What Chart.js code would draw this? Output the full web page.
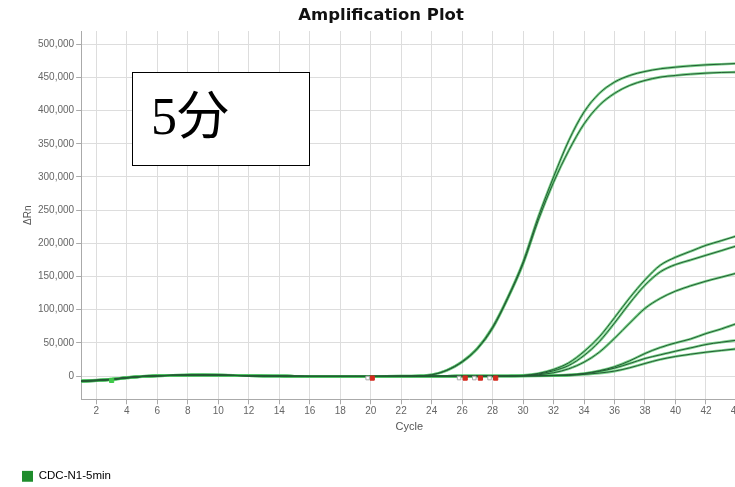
<!DOCTYPE html>
<html>
<head>
<meta charset="utf-8">
<script src="https://cdn.jsdelivr.net/npm/chart.js@4"></script>
<style>
  html, body { margin: 0; padding: 0; background: #fff; overflow: hidden; }
  #wrap { position: relative; width: 735px; height: 487px; overflow: hidden; }
  #note {
    position: absolute; left: 132px; top: 72px; width: 178px; height: 94px;
    border: 1px solid #000; background: #fff;
    font-family: "Liberation Serif", "Noto Sans CJK JP", serif; font-size: 52px;
    line-height: 88px; padding-left: 18px; box-sizing: border-box; color: #000;
  }
</style>
</head>
<body>
<div id="wrap">
  <canvas id="chart" width="743" height="487"></canvas>
  <div id="note">5分</div>
</div>
<script>
const Chart = window.Chart;

const cycles = [1, 2, 3, 4, 5, 6, 7, 8, 9, 10, 11, 12, 13, 14, 15, 16, 17, 18, 19, 20, 21, 22,
  23, 24, 25, 26, 27, 28, 29, 30, 31, 32, 33, 34, 35, 36, 37, 38, 39, 40, 41, 42, 43, 44];

const xTicks = [2, 4, 6, 8, 10, 12, 14, 16, 18, 20, 22, 24, 26, 28, 30, 32, 34, 36, 38, 40, 42, 44];
const yTicks = [0, 50000, 100000, 150000, 200000, 250000, 300000, 350000, 400000, 450000, 500000];

// two early samples (Ct ~ 27)
const highA = [-7500, -6500, -5000, -2500, -500, 500, 1200, 1500, 1700, 1500, 1000, 500, 300, 0, -300, -500,
  -500, -500, -500, -500, -300, 0, 500, 2000, 9000, 22000, 42000, 74000, 119000, 172000, 240000, 300000,
  355000, 398000, 426000, 443000, 453000, 459000, 463000, 465500, 467500, 469000, 470000, 471000];
const highB = [-8000, -7000, -5500, -3000, -800, 300, 1000, 1300, 1500, 1300, 900, 400, 200, 0, -300, -500,
  -500, -500, -500, -500, -300, 0, 500, 2000, 8500, 21000, 41000, 72000, 117000, 169000, 235000, 292000,
  340000, 380000, 408000, 426000, 438000, 445500, 450500, 453000, 455000, 456500, 457500, 458000];

// late samples
const lateA = [-7000, -6000, -4500, -2000, -300, 600, 1300, 1600, 1800, 1600, 1100, 600, 300, 0, -300, -500,
  -500, -500, -500, -500, -400, -300, -300, -200, -200, -100, 0, 0, 200, 1000, 4000, 10000,
  20000, 37000, 59000, 88000, 118000, 145000, 167000, 179000, 188000, 197000, 204000, 211000];
const lateB = [-8000, -7000, -5000, -2500, -600, 400, 1100, 1400, 1600, 1400, 1000, 500, 200, 0, -300, -500,
  -500, -500, -500, -500, -400, -300, -300, -200, -200, -100, 0, 0, 200, 800, 3000, 8000,
  16000, 31000, 52000, 80000, 110000, 137000, 157000, 168000, 175000, 182000, 189000, 196000];
const lateC = [-7500, -6500, -5000, -2200, -400, 500, 1200, 1500, 1700, 1500, 1000, 500, 300, 0, -300, -500,
  -500, -500, -500, -500, -400, -300, -300, -200, -200, -100, 0, 0, 100, 600, 2000, 5000,
  11000, 21000, 36000, 57000, 80000, 102000, 117000, 128000, 136000, 143000, 149000, 155000];
const lateD = [-8000, -6800, -5200, -2800, -700, 300, 1000, 1300, 1500, 1300, 900, 400, 200, 0, -300, -500,
  -500, -500, -500, -500, -400, -300, -300, -200, -200, -100, 0, 0, 0, 300, 600, 1000,
  2000, 4000, 8000, 14000, 23000, 34000, 43000, 50000, 56000, 64000, 71000, 79000];
const lateE = [-7200, -6200, -4800, -2300, -500, 400, 1100, 1400, 1600, 1400, 1000, 500, 200, 0, -300, -500,
  -500, -500, -500, -500, -400, -300, -300, -200, -200, -100, 0, 0, 0, 200, 400, 800,
  1500, 3500, 7000, 12000, 19000, 26500, 32000, 37500, 42500, 47500, 51000, 54000];
const lateF = [-7800, -6600, -5000, -2600, -600, 300, 1000, 1300, 1500, 1300, 900, 400, 200, 0, -300, -500,
  -500, -500, -500, -500, -400, -300, -300, -200, -200, -100, 0, 0, 0, 200, 300, 600,
  1000, 2500, 4500, 7500, 12500, 19000, 25000, 29500, 33000, 36000, 38500, 41000];

const curves = [highA, highB, lateA, lateB, lateC, lateD, lateE, lateF];

// threshold cycle markers on the baseline
const ctMarkX = [20.1, 26.2, 27.2, 28.2];
const ctMarkY = [-3000, -3000, -3000, -3000];
const ctOpenX = [19.8, 25.8, 26.8, 27.8];
const baseMarkX = [3];
const baseMarkY = [-6500];

const toPoints = (values) => values.map((value, index) => ({ x: cycles[index], y: value }));

const datasets = [];
curves.forEach((values) => {
  datasets.push({
    data: toPoints(values),
    borderColor: '#245c35',
    borderWidth: 1,
    pointRadius: 0,
    cubicInterpolationMode: 'monotone',
    order: 1,
  });
  datasets.push({
    data: toPoints(values),
    borderColor: 'rgba(80,195,100,0.75)',
    borderWidth: 2.6,
    pointRadius: 0,
    cubicInterpolationMode: 'monotone',
    order: 2,
  });
});
datasets.push({
  type: 'scatter',
  data: ctOpenX.map((x, index) => ({ x, y: ctMarkY[index] })),
  pointStyle: 'rect',
  pointRadius: 2.5,
  borderWidth: 1,
  backgroundColor: '#fff',
  borderColor: '#aaa',
  order: 0,
});
datasets.push({
  type: 'scatter',
  data: ctMarkX.map((x, index) => ({ x, y: ctMarkY[index] })),
  pointStyle: 'rect',
  pointRadius: 3,
  backgroundColor: '#d42a1e',
  borderColor: '#d42a1e',
  order: 0,
});
datasets.push({
  type: 'scatter',
  data: baseMarkX.map((x, index) => ({ x, y: baseMarkY[index] })),
  pointStyle: 'rect',
  pointRadius: 3,
  backgroundColor: '#3fc94a',
  borderColor: '#3fc94a',
  order: 0,
});

const titleAt = {
  id: 'titleAt',
  afterDraw(chart) {
    const { ctx } = chart;
    ctx.save();
    ctx.font = 'bold 16.5px "DejaVu Sans"';
    ctx.fillStyle = '#111';
    ctx.textAlign = 'center';
    ctx.textBaseline = 'middle';
    ctx.fillText('Amplification Plot', 381, 16);
    ctx.restore();
  },
};

const tickFont = { family: '"Liberation Sans", Arial', size: 10 };
const gridStyle = { color: '#dddddd', borderDash: [2, 2], tickLength: 5, tickColor: '#aaa', tickBorderDash: [] };

new Chart(document.getElementById('chart'), {
  type: 'line',
  data: { datasets },
  options: {
    responsive: false,
    animation: false,
    layout: { padding: { top: 31, left: 22, right: 0, bottom: -5 } },
    plugins: {
      tooltip: { enabled: false },
      title: { display: false },
      legend: {
        display: true,
        position: 'bottom',
        align: 'start',
        labels: {
          boxWidth: 11,
          boxHeight: 11,
          padding: 0,
          color: '#555',
          font: { family: '"Liberation Sans", Arial', size: 11.5 },
          generateLabels: () => [{
            text: 'CDC-N1-5min',
            fillStyle: '#1e8c2c',
            strokeStyle: '#1e8c2c',
            lineWidth: 0,
            datasetIndex: 0,
          }],
        },
      },
    },
    scales: {
      x: {
        type: 'linear',
        min: 1,
        max: 44.07,
        afterBuildTicks: (axis) => { axis.ticks = xTicks.map((value) => ({ value })); },
        ticks: { color: '#666', font: tickFont, padding: 1, maxRotation: 0 },
        grid: gridStyle,
        border: { display: true, color: '#aaa' },
        title: {
          display: true,
          text: 'Cycle',
          color: '#555',
          font: { family: '"Liberation Sans", Arial', size: 11 },
          padding: { top: 2, bottom: 37 },
        },
      },
      y: {
        min: -35000,
        max: 520000,
        afterBuildTicks: (axis) => { axis.ticks = yTicks.map((value) => ({ value })); },
        ticks: {
          color: '#666',
          font: tickFont,
          padding: 2,
          callback: (value) => value.toLocaleString('en-US'),
        },
        grid: gridStyle,
        border: { display: true, color: '#aaa' },
        title: {
          display: true,
          text: 'ΔRn',
          color: '#555',
          font: { family: '"Liberation Sans", Arial', size: 10 },
          padding: { top: 0, bottom: 2 },
        },
      },
    },
  },
  plugins: [titleAt],
});
</script>
</body>
</html>
